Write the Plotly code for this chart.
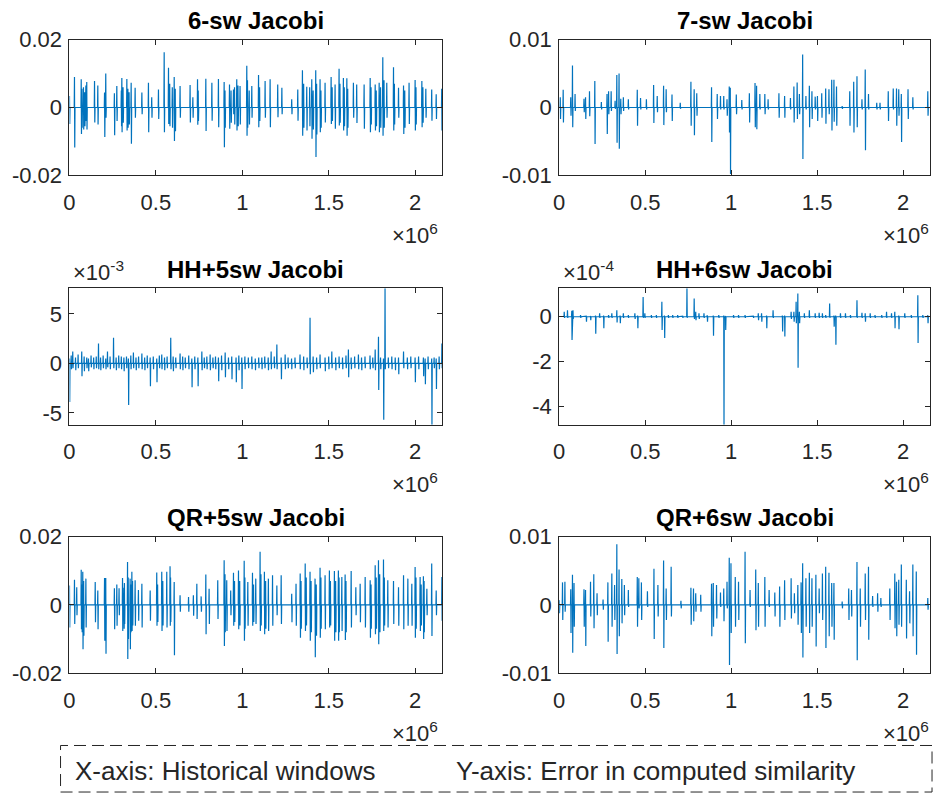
import plotly.graph_objects as go

# ---------------- data (x in 10^6 windows, values in panel units) ----------------
# 6-sw Jacobi (values x1e-3)
sw6_x = [0.000, 0.029, 0.068, 0.081, 0.100, 0.145, 0.164, 0.203, 0.210, 0.260, 0.274, 0.303, 0.332, 0.357,
         0.380, 0.419, 0.457, 0.476, 0.515, 0.548, 0.573, 0.606, 0.640, 0.698, 0.714, 0.741, 0.789, 0.824,
         0.862, 0.895, 0.926, 0.949, 0.968, 0.987, 1.026, 1.055, 1.094, 1.132, 1.161, 1.205, 1.229, 1.286,
         1.321, 1.348, 1.373, 1.402, 1.425, 1.450, 1.479, 1.514, 1.537, 1.560, 1.585, 1.605, 1.643, 1.662,
         1.705, 1.740, 1.769, 1.792, 1.813, 1.836, 1.875, 1.904, 1.933, 1.965, 2.000, 2.039, 2.062, 2.096,
         2.122, 2.154,
         0.072, 0.088, 0.095, 0.300, 0.310, 0.338, 0.345, 0.580, 0.595, 0.612, 0.745, 0.900, 0.935, 0.955,
         0.975, 1.030, 1.040, 1.100, 1.355, 1.390, 1.410, 1.430, 1.455, 1.520, 1.565, 1.590, 1.610, 1.745,
         1.775, 1.800, 1.820, 1.880, 1.940, 2.005, 2.045]
sw6_hi = [3.4, 9.0, 8.3, 6.0, 7.5, 7.8, 6.5, 4.4, 10.0, 4.2, 6.3, 8.7, 8.4, 7.3,
          5.8, 4.4, 7.3, 3.0, 5.3, 16.3, 11.7, 9.0, 6.3, 6.6, 3.0, 8.3, 8.5, 7.3,
          8.4, 7.5, 6.8, 5.3, 8.3, 6.3, 12.3, 6.3, 9.6, 7.8, 8.3, 6.8, 5.8, 2.4,
          5.3, 11.0, 6.1, 8.3, 11.0, 8.3, 7.3, 9.0, 6.8, 11.4, 8.7, 8.6, 7.3, 6.8,
          6.8, 8.7, 6.8, 7.3, 14.8, 7.3, 11.9, 5.8, 6.5, 7.3, 8.1, 7.8, 5.5, 5.3,
          3.9, 5.5,
          5.5, 4.5, 6.5, 5.0, 6.0, 5.5, 4.5, 7.0, 6.0, 5.5, 5.0, 5.0, 5.0, 6.0,
          6.5, 8.0, 5.0, 6.0, 7.0, 6.0, 5.0, 7.0, 5.0, 6.0, 7.0, 6.0, 5.5, 6.0,
          5.0, 6.0, 8.0, 7.0, 5.0, 6.0, 6.0]
sw6_lo = [-4.9, -11.8, -7.8, -6.5, -6.5, -4.4, -5.0, -8.7, -3.0, -8.2, -4.0, -7.3, -6.8, -10.7,
          -3.0, -2.0, -7.3, -3.0, -3.4, -7.3, -4.9, -9.9, -3.0, -4.4, -3.0, -5.1, -6.9, -3.9,
          -5.8, -11.7, -6.3, -2.0, -6.8, -5.0, -8.3, -3.0, -5.8, -3.0, -5.8, -2.9, -2.0, -2.0,
          -3.9, -8.3, -6.8, -9.2, -14.6, -7.3, -4.4, -4.9, -6.3, -5.3, -6.8, -8.3, -3.0, -4.6,
          -6.3, -7.3, -6.8, -7.3, -8.3, -3.0, -6.8, -3.0, -7.8, -4.9, -6.8, -5.8, -3.0, -3.9,
          -3.4, -6.8,
          -6.0, -5.5, -4.0, -5.5, -4.5, -6.0, -5.0, -5.5, -6.0, -7.0, -4.0, -6.0, -4.5, -5.0,
          -5.5, -6.0, -5.0, -4.0, -6.0, -5.5, -6.5, -8.0, -6.0, -4.0, -4.5, -5.5, -6.0, -5.0,
          -5.5, -6.0, -6.0, -5.0, -6.0, -5.0, -4.5]

# 7-sw Jacobi (values x1e-3)
sw7_x = [0.006, 0.023, 0.067, 0.077, 0.092, 0.144, 0.153, 0.176, 0.207, 0.245, 0.278, 0.287, 0.302, 0.325,
         0.335, 0.348, 0.358, 0.373, 0.402, 0.454, 0.473, 0.507, 0.549, 0.570, 0.607, 0.622, 0.656, 0.704,
         0.766, 0.785, 0.800, 0.886, 0.919, 0.938, 0.957, 0.976, 0.989, 0.995, 1.030, 1.062, 1.106, 1.139,
         1.148, 1.167, 1.196, 1.215, 1.278, 1.311, 1.345, 1.365, 1.384, 1.397, 1.416, 1.435, 1.455, 1.470,
         1.489, 1.502, 1.527, 1.550, 1.569, 1.585, 1.598, 1.613, 1.646, 1.690, 1.713, 1.732, 1.761, 1.780,
         1.799, 1.847, 1.866, 1.914, 1.943, 1.962, 1.975, 1.990, 2.029, 2.057, 2.144]
sw7_hi = [1.5, 2.6, 1.5, 6.2, 2.0, 1.3, 1.5, 2.4, 3.9, 0.8, 2.0, 2.4, 2.4, 1.0,
          4.8, 5.0, 1.3, 1.5, 1.2, 2.6, 1.4, 1.2, 3.3, 1.7, 3.2, 2.7, 1.9, 0.7,
          3.8, 2.7, 2.1, 3.0, 2.0, 1.7, 1.7, 1.2, 3.1, 2.9, 1.9, 1.1, 2.1, 3.6,
          3.2, 2.0, 2.0, 1.2, 2.1, 1.7, 1.4, 3.1, 3.7, 2.0, 7.8, 1.7, 3.2, 2.4,
          1.6, 1.7, 2.1, 2.8, 2.7, 4.1, 4.1, 3.1, 0.2, 2.4, 3.8, 4.6, 1.2, 5.6,
          2.0, 0.7, 0.7, 2.4, 2.8, 2.8, 2.7, 2.0, 2.7, 1.5, 2.4]
sw7_lo = [-1.7, -2.2, -1.2, -2.9, -0.5, -0.7, -1.7, -1.3, -5.4, -0.3, -3.9, -1.0, -0.5, -0.2,
          -5.2, -6.1, -1.0, -0.5, -0.3, -2.7, -0.3, -0.3, -2.3, -0.7, -2.6, -0.7, -2.0, -0.2,
          -2.7, -4.1, -1.2, -5.1, -1.7, -0.3, -0.3, -1.2, -3.7, -9.8, -1.0, -0.3, -2.2, -2.9,
          -3.2, -0.3, -1.0, -0.3, -1.5, -1.5, -0.3, -2.2, -1.7, -1.0, -7.6, -0.3, -2.9, -1.7,
          -0.3, -2.0, -1.5, -2.4, -1.0, -3.4, -2.1, -2.7, -0.2, -2.7, -3.7, -2.9, -0.3, -6.3,
          -0.3, -0.3, -0.3, -2.0, -0.3, -2.7, -1.2, -5.1, -1.7, -0.3, -1.2]

# HH+5sw Jacobi (values x1e-3)
hh5_x = [0.000, 0.010, 0.019, 0.035, 0.050, 0.071, 0.085, 0.100, 0.110, 0.125, 0.140, 0.155, 0.168, 0.180,
         0.195, 0.210, 0.220, 0.235, 0.255, 0.270, 0.285, 0.300, 0.315, 0.330, 0.341, 0.355, 0.370, 0.385,
         0.400, 0.419, 0.435, 0.450, 0.467, 0.485, 0.505, 0.520, 0.534, 0.550, 0.565, 0.586, 0.600, 0.615,
         0.640, 0.655, 0.670, 0.690, 0.708, 0.725, 0.743, 0.766, 0.780, 0.795, 0.814, 0.830, 0.845, 0.862,
         0.880, 0.901, 0.920, 0.939, 0.964, 0.980, 0.997, 1.015, 1.035, 1.055, 1.075, 1.095, 1.113, 1.130,
         1.150, 1.167, 1.185, 1.200, 1.225, 1.248, 1.265, 1.285, 1.305, 1.334, 1.355, 1.375, 1.392, 1.410,
         1.430, 1.450, 1.479, 1.500, 1.518, 1.540, 1.560, 1.580, 1.600, 1.614, 1.630, 1.650, 1.672, 1.690,
         1.710, 1.739, 1.755, 1.769, 1.788, 1.800, 1.817, 1.826, 1.845, 1.865, 1.885, 1.904, 1.933, 1.955,
         1.975, 2.000, 2.020, 2.048, 2.058, 2.075, 2.096, 2.110, 2.122, 2.139, 2.155]
hh5_hi = [0.5, 0.8, 1.2, 0.6, 0.9, 1.2, 0.7, 0.6, 0.5, 0.8, 0.6, 0.7, 2.0, 0.6,
          0.8, 0.5, 1.2, 0.7, 2.6, 0.6, 0.8, 0.7, 0.6, 0.7, 0.5, 0.8, 1.1, 0.6,
          0.7, 1.0, 0.6, 0.8, 0.6, 0.7, 0.5, 0.8, 0.9, 0.6, 0.7, 2.6, 0.7, 0.6,
          1.0, 0.7, 0.6, 0.8, 0.5, 0.7, 0.6, 1.2, 0.6, 0.7, 0.9, 0.6, 0.7, 0.6,
          0.8, 1.1, 0.6, 0.7, 0.6, 0.8, 0.6, 0.7, 0.6, 0.7, 0.5, 0.6, 0.6, 0.7,
          0.6, 1.2, 0.7, 1.9, 0.6, 0.9, 0.6, 0.5, 0.6, 0.9, 0.7, 0.6, 4.6, 0.7,
          0.6, 0.9, 0.6, 0.7, 1.2, 0.6, 0.7, 0.6, 0.8, 1.4, 0.6, 0.7, 0.9, 0.6,
          0.7, 0.8, 0.6, 1.4, 2.7, 0.6, 0.5, 7.6, 0.6, 0.7, 0.6, 0.6, 1.2, 0.6,
          0.7, 0.6, 0.7, 0.6, 0.5, 0.7, 0.5, 0.6, 0.5, 0.7, 2.0]
hh5_lo = [-3.9, -0.6, -0.5, -0.7, -0.5, -1.3, -0.8, -0.5, -0.8, -0.4, -0.6, -0.5, -0.6, -0.7,
          -0.5, -0.6, -0.4, -0.6, -0.5, -0.7, -0.5, -0.6, -0.8, -0.5, -4.2, -0.6, -0.5, -0.7,
          -0.5, -0.6, -0.7, -0.5, -2.3, -0.6, -1.9, -0.5, -0.6, -0.7, -0.5, -0.6, -0.8, -0.5,
          -0.6, -0.7, -0.5, -0.6, -2.4, -0.6, -2.3, -0.7, -0.5, -0.6, -0.7, -0.5, -0.6, -1.8,
          -0.7, -1.4, -0.6, -1.6, -1.9, -0.7, -2.6, -0.6, -0.5, -0.6, -0.7, -0.5, -0.6, -0.5,
          -0.7, -0.6, -0.5, -0.6, -1.6, -0.6, -0.5, -0.6, -0.5, -0.6, -0.7, -0.5, -1.1, -0.9,
          -0.6, -0.5, -0.8, -0.6, -0.5, -0.7, -0.5, -0.6, -0.5, -1.4, -0.6, -0.5, -0.6, -0.7,
          -0.5, -0.6, -0.5, -0.7, -2.7, -0.6, -5.7, -0.6, -0.5, -0.6, -0.7, -1.1, -0.5, -0.6,
          -0.5, -1.9, -0.6, -1.3, -2.1, -0.6, -6.2, -0.5, -2.6, -0.6, -0.5]

# HH+6sw Jacobi (values x1e-4)
hh6_x = [0.029, 0.048, 0.073, 0.080, 0.124, 0.157, 0.182, 0.211, 0.235, 0.258, 0.287, 0.306, 0.335, 0.354,
         0.373, 0.402, 0.440, 0.456, 0.488, 0.498, 0.536, 0.565, 0.597, 0.612, 0.635, 0.660, 0.689, 0.718,
         0.743, 0.785, 0.794, 0.813, 0.842, 0.861, 0.896, 0.928, 0.957, 0.967, 1.014, 1.043, 1.081, 1.129,
         1.158, 1.177, 1.206, 1.244, 1.298, 1.311, 1.349, 1.365, 1.378, 1.388, 1.397, 1.426, 1.455, 1.489,
         1.512, 1.531, 1.550, 1.573, 1.598, 1.608, 1.636, 1.665, 1.694, 1.732, 1.761, 1.780, 1.809, 1.837,
         1.876, 1.904, 1.933, 1.952, 1.975, 2.010, 2.048, 2.086, 2.115, 2.144]
hh6_hi = [0.22, 0.29, 0.26, 0.29, 0.07, 0.03, 0.03, 0.05, 0.15, 0.05, 0.07, 0.15, 0.29, 0.05,
          0.15, 0.07, 0.15, 0.05, 0.88, 0.15, 0.07, 0.07, 0.66, 0.05, 0.07, 0.07, 0.07, 0.03,
          1.27, 0.81, 0.22, 0.15, 0.15, 0.07, 0.05, 0.07, 0.05, 0.03, 0.07, 0.07, 0.07, 0.03,
          0.15, 0.15, 0.05, 0.29, 0.05, 0.05, 0.22, 0.22, 0.66, 1.03, 0.22, 0.15, 0.29, 0.15,
          0.18, 0.15, 0.07, 0.59, 0.05, 0.05, 0.15, 0.15, 0.07, 0.73, 0.18, 0.15, 0.15, 0.07,
          0.07, 0.22, 0.15, 0.22, 0.05, 0.15, 0.07, 0.95, 0.07, 0.07]
hh6_lo = [-0.05, -0.05, -1.03, -0.10, -0.05, -0.22, -0.15, -0.76, -0.05, -0.51, -0.05, -0.05, -0.26, -0.29,
          -0.05, -0.05, -0.10, -0.51, -0.05, -0.05, -0.05, -0.05, -0.59, -0.95, -0.05, -0.05, -0.05, -0.05,
          -0.05, -0.10, -0.15, -0.10, -0.05, -0.22, -0.85, -0.05, -4.80, -0.59, -0.05, -0.05, -0.05, -0.05,
          -0.15, -0.22, -0.51, -0.05, -0.66, -0.88, -0.10, -0.22, -0.29, -2.27, -0.29, -0.05, -0.05, -0.05,
          -0.05, -0.05, -0.05, -0.05, -0.44, -1.25, -0.05, -0.05, -0.05, -0.05, -0.05, -0.22, -0.05, -0.05,
          -0.05, -0.05, -0.05, -0.51, -0.56, -0.05, -0.05, -1.17, -0.05, -0.29]

# QR+5sw Jacobi (values x1e-3)
qr5_x = [0.000, 0.029, 0.042, 0.068, 0.077, 0.095, 0.149, 0.164, 0.203, 0.210, 0.260, 0.274, 0.287, 0.307,
         0.318, 0.336, 0.351, 0.361, 0.380, 0.399, 0.419, 0.467, 0.505, 0.534, 0.563, 0.582, 0.606, 0.640,
         0.689, 0.717, 0.737, 0.762, 0.789, 0.808, 0.858, 0.895, 0.910, 0.933, 0.949, 0.978, 1.011, 1.032,
         1.059, 1.078, 1.103, 1.128, 1.151, 1.175, 1.200, 1.225, 1.286, 1.311, 1.335, 1.364, 1.392, 1.421,
         1.450, 1.479, 1.504, 1.533, 1.556, 1.576, 1.595, 1.630, 1.657, 1.682, 1.711, 1.740, 1.769, 1.788,
         1.817, 1.842, 1.875, 1.904, 1.933, 1.958, 1.981, 2.000, 2.029, 2.048, 2.068, 2.096, 2.122, 2.155,
         0.072, 0.082, 0.315, 0.340, 0.355, 0.365, 0.510, 0.540, 0.585, 0.900, 0.955, 0.985, 1.015, 1.065,
         1.108, 1.135, 1.340, 1.370, 1.398, 1.428, 1.455, 1.510, 1.540, 1.560, 1.600, 1.745, 1.775, 1.795,
         1.822, 2.005, 2.035, 2.052]
qr5_hi = [5.7, 7.4, 5.2, 10.3, 9.7, 7.7, 6.7, 4.2, 7.9, 7.9, 4.9, 6.0, 4.9, 7.9,
          6.4, 12.6, 7.7, 9.7, 7.2, 4.4, 6.2, 4.2, 9.5, 9.7, 9.7, 11.3, 6.7, 2.8,
          2.3, 2.8, 6.2, 2.5, 8.9, 4.7, 7.2, 13.1, 7.2, 4.2, 9.4, 10.1, 12.9, 6.7,
          9.4, 7.7, 15.6, 9.7, 7.7, 8.7, 5.7, 8.7, 3.3, 6.2, 9.2, 12.1, 9.7, 7.7,
          10.9, 8.7, 10.1, 9.9, 10.1, 8.2, 8.9, 9.9, 5.2, 6.2, 8.2, 7.2, 11.6, 13.1,
          13.3, 7.2, 7.0, 5.2, 8.7, 7.7, 6.2, 11.1, 8.2, 8.4, 4.7, 12.1, 4.2, 8.2,
          6.0, 7.0, 5.0, 8.0, 6.0, 7.0, 6.0, 7.0, 8.0, 9.0, 7.0, 7.0, 8.0, 6.0,
          9.0, 7.0, 7.0, 8.0, 7.0, 6.0, 8.0, 7.0, 7.0, 8.0, 7.0, 6.0, 8.0, 9.0,
          8.0, 8.0, 6.0, 7.0]
qr5_lo = [-6.6, -5.6, -3.0, -7.1, -13.0, -6.6, -5.1, -7.1, -10.5, -14.3, -7.1, -6.1, -3.0, -7.6,
          -5.6, -15.8, -13.0, -7.6, -6.1, -4.6, -6.6, -4.6, -6.1, -7.6, -6.6, -6.1, -14.7, -2.0,
          -2.0, -3.2, -4.1, -2.0, -8.6, -5.6, -4.1, -12.0, -7.6, -3.0, -6.1, -7.1, -10.5, -6.1,
          -6.1, -5.6, -7.6, -8.6, -7.6, -6.1, -3.0, -5.6, -5.1, -6.1, -9.6, -7.6, -10.5, -15.3,
          -9.6, -7.1, -6.6, -10.5, -10.5, -7.6, -10.3, -6.6, -3.0, -5.1, -6.6, -9.6, -8.6, -11.5,
          -7.6, -6.6, -5.6, -6.1, -7.1, -6.1, -6.1, -9.6, -7.6, -10.0, -3.0, -9.1, -3.0, -4.6,
          -8.0, -9.0, -7.0, -10.0, -8.0, -6.0, -5.0, -6.0, -5.0, -8.0, -5.0, -6.0, -7.0, -5.0,
          -6.0, -7.0, -7.0, -6.0, -8.0, -9.0, -7.0, -6.0, -8.0, -8.0, -8.0, -7.0, -7.0, -8.0,
          -6.0, -7.0, -6.0, -8.0]

# QR+6sw Jacobi (values x1e-3)
qr6_x = [0.000, 0.019, 0.033, 0.067, 0.077, 0.086, 0.144, 0.153, 0.182, 0.201, 0.220, 0.255, 0.283, 0.306,
         0.322, 0.335, 0.348, 0.364, 0.379, 0.402, 0.454, 0.463, 0.478, 0.513, 0.551, 0.574, 0.607, 0.622,
         0.651, 0.708, 0.766, 0.781, 0.794, 0.823, 0.886, 0.896, 0.915, 0.938, 0.957, 0.976, 0.989, 0.999,
         1.024, 1.043, 1.081, 1.110, 1.143, 1.158, 1.196, 1.221, 1.254, 1.282, 1.311, 1.349, 1.368, 1.388,
         1.407, 1.416, 1.435, 1.455, 1.470, 1.493, 1.512, 1.531, 1.550, 1.569, 1.585, 1.598, 1.646, 1.684,
         1.700, 1.732, 1.751, 1.780, 1.799, 1.823, 1.852, 1.871, 1.923, 1.952, 1.962, 1.975, 1.990, 2.019,
         2.038, 2.057, 2.077, 2.144]
qr6_hi = [0.7, 3.3, 3.4, 2.3, 4.4, 3.2, 2.3, 2.2, 3.4, 4.5, 1.7, 0.8, 3.3, 4.6,
          2.9, 8.9, 5.2, 3.8, 2.9, 2.2, 4.1, 3.9, 3.3, 2.0, 5.3, 2.9, 6.5, 2.4,
          5.6, 0.6, 2.5, 2.4, 1.7, 1.5, 3.1, 3.2, 2.9, 1.8, 2.4, 3.4, 6.9, 6.1,
          4.1, 3.4, 7.8, 2.2, 5.2, 3.2, 4.1, 2.2, 1.8, 2.7, 3.6, 3.9, 1.7, 2.9,
          3.3, 6.1, 3.9, 4.7, 3.9, 4.4, 2.4, 4.6, 5.6, 4.7, 3.2, 3.2, 0.5, 2.4,
          2.2, 6.3, 2.4, 4.6, 5.6, 1.3, 1.7, 1.0, 2.4, 4.6, 3.4, 3.7, 5.9, 3.7,
          2.0, 5.9, 4.9, 1.0]
qr6_lo = [-1.2, -2.2, -1.0, -4.1, -7.0, -3.2, -3.2, -6.0, -1.7, -3.4, -1.5, -0.7, -5.4, -3.2,
          -2.2, -7.2, -4.6, -2.7, -1.5, -0.3, -3.2, -0.5, -2.2, -0.3, -5.0, -1.7, -6.3, -2.2,
          -1.7, -0.5, -2.9, -2.4, -1.0, -1.0, -4.6, -3.2, -2.0, -0.3, -2.4, -0.5, -8.8, -4.1,
          -3.2, -2.2, -5.6, -0.3, -3.7, -3.2, -3.2, -0.3, -1.7, -3.2, -2.2, -2.0, -1.2, -2.9,
          -4.1, -7.7, -3.2, -4.1, -3.2, -6.1, -1.2, -2.2, -6.3, -4.6, -3.2, -5.1, -0.5, -2.2,
          -1.7, -8.1, -3.2, -2.2, -5.1, -0.3, -1.0, -0.3, -2.2, -3.4, -4.6, -2.9, -3.2, -4.9,
          -2.7, -4.6, -7.3, -0.7]

titles = ["6-sw Jacobi", "7-sw Jacobi", "HH+5sw Jacobi", "HH+6sw Jacobi", "QR+5sw Jacobi", "QR+6sw Jacobi"]
x_tick_vals = [0, 0.5, 1, 1.5, 2]
x_tick_text = ["0", "0.5", "1", "1.5", "2"]
note_x = "X-axis: Historical windows"
note_y = "Y-axis: Error in computed similarity"

panels = [
    dict(x=sw6_x, hi=sw6_hi, lo=sw6_lo, scale=1e-3, yr=[-0.02, 0.02],
         tv=[-0.02, 0, 0.02], tt=["-0.02", "0", "0.02"], exp=None),
    dict(x=sw7_x, hi=sw7_hi, lo=sw7_lo, scale=1e-3, yr=[-0.01, 0.01],
         tv=[-0.01, 0, 0.01], tt=["-0.01", "0", "0.01"], exp=None),
    dict(x=hh5_x, hi=hh5_hi, lo=hh5_lo, scale=1e-3, yr=[-6.2e-3, 7.6e-3],
         tv=[-5e-3, 0, 5e-3], tt=["-5", "0", "5"], exp="-3"),
    dict(x=hh6_x, hi=hh6_hi, lo=hh6_lo, scale=1e-4, yr=[-4.8e-4, 1.27e-4],
         tv=[-4e-4, -2e-4, 0], tt=["-4", "-2", "0"], exp="-4"),
    dict(x=qr5_x, hi=qr5_hi, lo=qr5_lo, scale=1e-3, yr=[-0.02, 0.02],
         tv=[-0.02, 0, 0.02], tt=["-0.02", "0", "0.02"], exp=None),
    dict(x=qr6_x, hi=qr6_hi, lo=qr6_lo, scale=1e-3, yr=[-0.01, 0.01],
         tv=[-0.01, 0, 0.01], tt=["-0.01", "0", "0.01"], exp=None),
]

# ---------------- layout geometry (reference pixels) ----------------
OFF = 8                      # page body margin
REF_W, REF_H = 934, 794      # reference extent minus the body margin
W, H = 926, 786              # figure size that fits the window without scrollbars
col_px = [(70, 446), (564, 938)]
row_px = [(40, 177), (291, 429), (542, 680)]
XMAX = 2.157e6
HALF = 1500  # half width of each spike in windows

def px_x(p):
    return (p - OFF) / REF_W

def px_y(p):
    return 1 - (p - OFF) / REF_H

def build_path(xs, his, los, scale):
    X, Y = [], []
    for x, h, l in zip(xs, his, los):
        xc = x * 1e6
        X += [xc - HALF, xc, xc + HALF, xc + 2 * HALF]
        Y += [0, h * scale, l * scale, 0]
    return X, Y

AX_COL = "#262626"
FONT = "Liberation Sans, Arial, Helvetica, sans-serif"

fig = go.Figure()
layout = dict(
    width=W, height=H, margin=dict(l=0, r=0, t=0, b=0, pad=0, autoexpand=False),
    paper_bgcolor="white", plot_bgcolor="white", showlegend=False,
    font=dict(family=FONT, color=AX_COL, size=22),
)
annotations = []

for i, p in enumerate(panels):
    r, c = divmod(i, 2)
    n = "" if i == 0 else str(i + 1)
    X, Y = build_path(p["x"], p["hi"], p["lo"], p["scale"])
    fig.add_trace(go.Scatter(x=X, y=Y, mode="lines", xaxis="x" + n, yaxis="y" + n,
                             line=dict(color="#0072BD", width=1.2), hoverinfo="skip"))
    x0, x1 = col_px[c]
    y0, y1 = row_px[r]
    common = dict(ticks="inside", ticklen=5, tickcolor=AX_COL, showline=True, linecolor=AX_COL,
                  linewidth=1, mirror="ticks", showgrid=False, zeroline=False, automargin=False,
                  tickfont=dict(size=22, color=AX_COL, family=FONT))
    layout["xaxis" + n] = dict(domain=[px_x(x0), px_x(x1)], anchor="y" + n, range=[0, XMAX],
                               tickvals=[v * 1e6 for v in x_tick_vals], ticktext=x_tick_text,
                               ticklabelstandoff=7, **common)
    layout["yaxis" + n] = dict(domain=[px_y(y1), px_y(y0)], anchor="x" + n, range=p["yr"],
                               tickvals=p["tv"], ticktext=p["tt"], ticklabelstandoff=2, **common)
    # title
    annotations.append(dict(text="<b>" + titles[i] + "</b>", xref="paper", yref="paper",
                            x=px_x((x0 + x1) / 2), y=px_y(y0 - 19), xanchor="center", yanchor="middle",
                            showarrow=False, font=dict(size=24, color="black", family=FONT)))
    # x exponent
    annotations.append(dict(text="×10<sup>6</sup>", xref="paper", yref="paper",
                            x=px_x(x1 + (1 if c else -2)), y=px_y(y1 + 59), xanchor="right",
                            yanchor="middle", showarrow=False,
                            font=dict(size=22, color=AX_COL, family=FONT)))
    if p["exp"]:
        annotations.append(dict(text="×10<sup>" + p["exp"] + "</sup>", xref="paper", yref="paper",
                                x=px_x(x0 + 2), y=px_y(y0 - 17), xanchor="left", yanchor="middle",
                                showarrow=False, font=dict(size=22, color=AX_COL, family=FONT)))

# bottom explanation box
annotations.append(dict(text=note_x, xref="paper", yref="paper",
                        x=px_x(74), y=px_y(779), xanchor="left", yanchor="middle", showarrow=False,
                        font=dict(size=26, color=AX_COL, family=FONT)))
annotations.append(dict(text=note_y, xref="paper", yref="paper",
                        x=px_x(458), y=px_y(779), xanchor="left", yanchor="middle", showarrow=False,
                        font=dict(size=26, color=AX_COL, family=FONT)))
layout["shapes"] = [dict(type="rect", xref="paper", yref="paper",
                         x0=px_x(61), x1=px_x(940), y0=px_y(800), y1=px_y(753),
                         line=dict(color=AX_COL, width=1, dash="12px,6px"))]
layout["annotations"] = annotations
fig.update_layout(**layout)
fig.write_html("out.html")
